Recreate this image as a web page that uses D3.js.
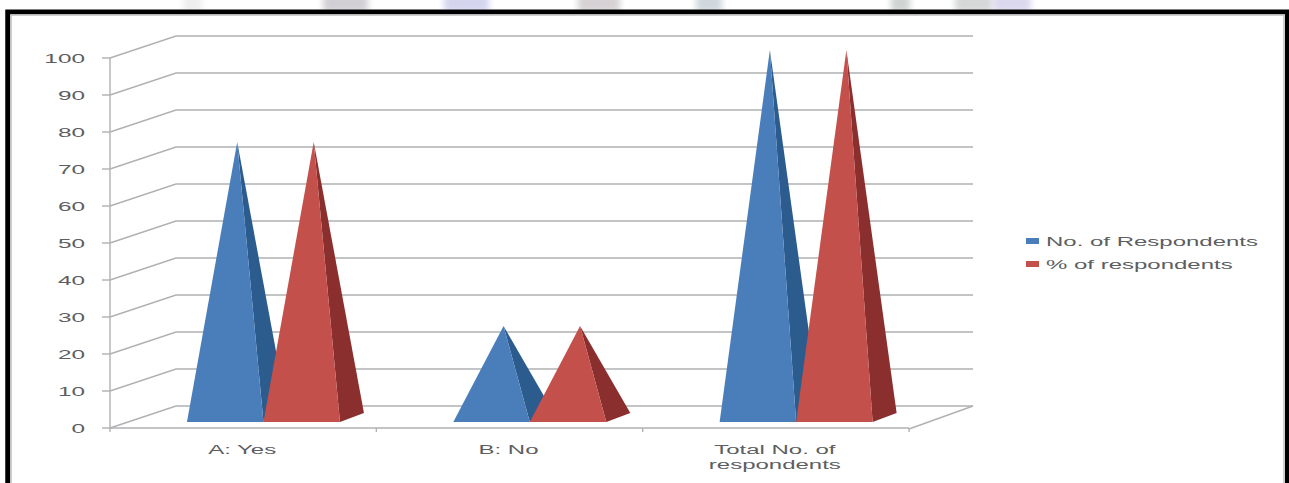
<!DOCTYPE html>
<html>
<head>
<meta charset="utf-8">
<script src="https://cdn.jsdelivr.net/npm/d3@7/dist/d3.min.js"></script>
<style>
  html, body { margin: 0; padding: 0; background: #fff; }
  svg { display: block; }
  text { font-family: "Liberation Sans", sans-serif; fill: #5c5e61; }
</style>
</head>
<body>
<div id="chart"></div>
<script>
// Survey responses shown as 3D pyramids
const categories = ["A: Yes", "B: No", "Total No. of|respondents"];
const respondents = [75, 25, 100];
const percentRespondents = [75, 25, 100];
const seriesNames = ["No. of Respondents", "% of respondents"];
const seriesColors = [
  { front: "#4a7ebb", side: "#2c5b8e" },
  { front: "#c4504c", side: "#8a2f2d" }
];
const yTicks = [0, 10, 20, 30, 40, 50, 60, 70, 80, 90, 100];
// Soft patches of the page behind the frame: start, width, tint
const pageBandStarts = [183, 323, 444, 578, 696, 891, 955, 993];
const pageBandWidths = [19, 45, 45, 42, 26, 19, 38, 38];
const pageBandTints = ["#eeeeee", "#d2cfd4", "#d4d4ee", "#d6d2d4", "#cfd8dc", "#cfd4d2", "#d6d8d8", "#dcd8ee"];

const W = 1289, H = 483;
const svg = d3.select("#chart").append("svg").attr("width", W).attr("height", H);
svg.append("rect").attr("width", W).attr("height", H).attr("fill", "#fff");

const soft = svg.append("defs").append("filter").attr("id", "soft")
  .attr("x", "-30%").attr("width", "160%").attr("y", "-30%").attr("height", "160%");
soft.append("feGaussianBlur").attr("stdDeviation", 3);

pageBandStarts.forEach((x, i) => {
  svg.append("rect").attr("x", x).attr("y", -6).attr("width", pageBandWidths[i]).attr("height", 18)
    .attr("fill", pageBandTints[i]).attr("filter", "url(#soft)");
});

// Frame: black outer border with a thin grey inner edge
svg.append("rect").attr("x", 7.75).attr("y", 12).attr("width", 1279.75).attr("height", 480)
  .attr("fill", "#fff").attr("stroke", "#000").attr("stroke-width", 5);
svg.append("rect").attr("x", 11).attr("y", 15).attr("width", 1273).attr("height", 480)
  .attr("fill", "none").attr("stroke", "#c4c4c4").attr("stroke-width", 1.6);

// Front plane of the 3D box and the depth offset of its back wall
const frontLeft = 110, frontRight = 909, frontBase = 428, frontTop = 58;
const depthX = 66, depthY = -22;

const yFront = d3.scaleLinear().domain([0, 100]).range([frontBase, frontTop]);
const xBand = d3.scaleBand().domain(categories).range([frontLeft, frontRight]);

const grid = "#b0b1b3";
const g = svg.append("g").attr("fill", "none").attr("stroke", grid).attr("stroke-width", 1.4);

// Gridlines run along the side wall, then across the back wall
g.selectAll("path.grid").data(yTicks).join("path").attr("class", "grid")
  .attr("d", d => {
    const y = yFront(d);
    return d3.line()([
      [frontLeft, y],
      [frontLeft + depthX, y + depthY],
      [frontRight + depthX - 2, y + depthY]
    ]);
  });

// Value axis, floor edges and tick marks
g.append("line").attr("x1", frontLeft).attr("x2", frontLeft)
  .attr("y1", yFront(100)).attr("y2", yFront(0));
g.append("line").attr("x1", frontLeft).attr("x2", frontRight)
  .attr("y1", yFront(0)).attr("y2", yFront(0));
g.append("line").attr("x1", frontRight).attr("x2", frontRight + depthX - 2)
  .attr("y1", yFront(0) + 1).attr("y2", yFront(0) + depthY);
g.selectAll("line.ytick").data(yTicks).join("line").attr("class", "ytick")
  .attr("x1", frontLeft - 8).attr("x2", frontLeft)
  .attr("y1", d => yFront(d)).attr("y2", d => yFront(d));
g.selectAll("line.xtick").data([0, 1, 2, 3]).join("line").attr("class", "xtick")
  .attr("x1", i => frontLeft + i * xBand.step()).attr("x2", i => frontLeft + i * xBand.step())
  .attr("y1", yFront(0)).attr("y2", yFront(0) + 4);

// Text in this chart is set wide, so each label is stretched horizontally
function wideText(parent, x, y, str, size, anchor, stretch) {
  return parent.append("text")
    .attr("transform", `translate(${x},${y}) scale(${stretch},1)`)
    .attr("text-anchor", anchor)
    .attr("font-size", size)
    .text(str);
}

yTicks.forEach(t => wideText(svg, 85, yFront(t) + 4.5, String(t), 12.5, "end", 1.95));

categories.forEach(c => {
  const cx = xBand(c) + xBand.bandwidth() / 2;
  c.split("|").forEach((line, i) => {
    wideText(svg, cx - 1, 454 + i * 15, line, 12, "middle", 2.0);
  });
});

// Pyramids: a lit front face and a shaded side face for each value
const pyramidWidth = 76.5;
const baseY = 422, apexZero = 418, unitsToPx = 3.68;
const sideDX = 24, sideDY = -9;
const apexShift = 12;
const yApex = d3.scaleLinear().domain([0, 100]).range([apexZero, apexZero - 100 * unitsToPx]);
const series = [respondents, percentRespondents];

categories.forEach((c, ci) => {
  const mid = xBand(c) + xBand.bandwidth() / 2 + 20.3;
  series.forEach((vals, si) => {
    const left = mid + (si - 1) * pyramidWidth;
    const right = left + pyramidWidth;
    const apex = [left + pyramidWidth / 2 + apexShift, yApex(vals[ci])];
    const col = seriesColors[si];
    svg.append("path")
      .attr("d", d3.line()([[right, baseY], [right + sideDX, baseY + sideDY], apex]) + "Z")
      .attr("fill", col.side);
    svg.append("path")
      .attr("d", d3.line()([[left, baseY], [right, baseY], apex]) + "Z")
      .attr("fill", col.front);
  });
});

// Legend
seriesNames.forEach((name, i) => {
  const y = 241 + i * 23;
  svg.append("rect").attr("x", 1026).attr("y", y - 3).attr("width", 13).attr("height", 6)
    .attr("fill", seriesColors[i].front);
  wideText(svg, 1046, y + 4.5, name, 12.5, "start", 1.92);
});
</script>
</body>
</html>
